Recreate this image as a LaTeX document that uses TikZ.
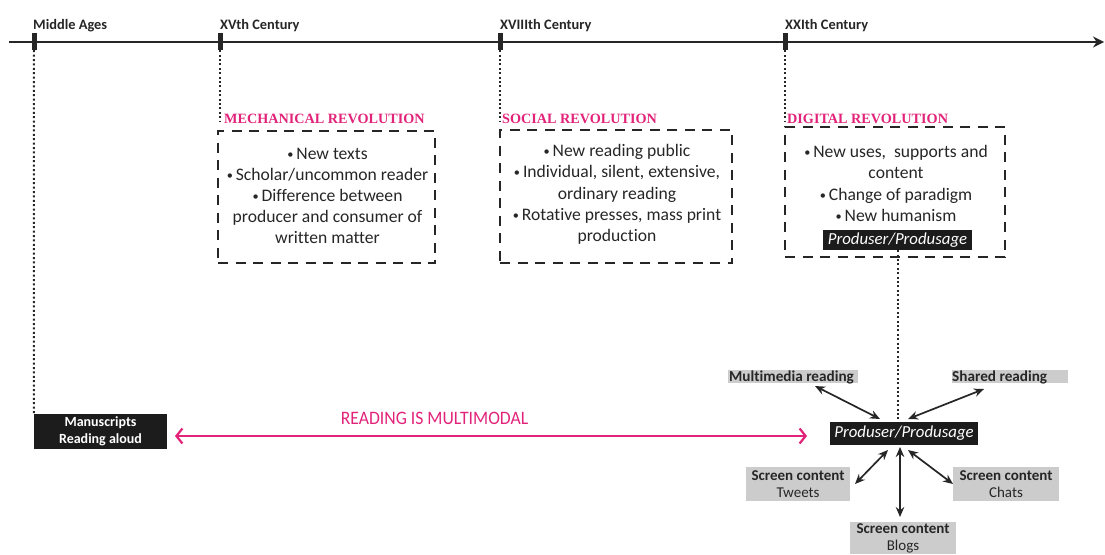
\documentclass[tikz,border=0pt]{standalone}
\usepackage{graphicx}
\usepackage{fontspec}
\setmainfont{Carlito}[Ligatures=NoCommon]
\newfontfamily\headfont{Liberation Serif}
\usetikzlibrary{arrows.meta}
\definecolor{mag}{RGB}{226,35,122}
\definecolor{ink}{RGB}{38,38,38}
\definecolor{greybox}{RGB}{204,204,204}
\definecolor{blackbox}{RGB}{28,28,28}
\newcommand\bul{\raisebox{0.12ex}{\scalebox{0.7}{\textbullet}}\,}
\tikzset{
  tl/.style={font=\fontsize{14.4}{16}\selectfont\bfseries, text=ink, anchor=base west, inner sep=0pt},
  tickmark/.style={fill=ink, minimum width=5pt, minimum height=17pt, inner sep=0pt},
  dots/.style={ink, line width=2pt, dash pattern=on 2pt off 2.4pt},
  revbox/.style={draw=ink, line width=2.4pt, dash pattern=on 10pt off 7.5pt, inner sep=0pt},
  revtitle/.style={font=\headfont\fontsize{14.2}{16}\selectfont\bfseries, text=mag, anchor=base west, inner sep=0pt},
  bodytext/.style={font=\fontsize{17.6}{21.2}\selectfont, text=ink, align=center, inner sep=0pt},
  darkbox/.style={fill=blackbox, text=white, inner sep=0pt},
  greylabel/.style={fill=greybox, text=ink, inner sep=0pt, font=\fontsize{15}{17}\selectfont, align=center},
  greytext/.style={text=ink, inner sep=0pt, font=\fontsize{15.2}{17}\selectfont\bfseries},
  dblarrow/.style={{Stealth[length=10pt,width=8.5pt]}-{Stealth[length=10pt,width=8.5pt]}, line width=1.7pt, ink},
  magarrow/.style={{Straight Barb[length=6pt,width=15pt]}-{Straight Barb[length=6pt,width=15pt]}, line width=2.2pt, mag}
}
\begin{document}
\begin{tikzpicture}[x=1pt,y=-1pt]
\useasboundingbox (0,0) rectangle (1105,554);

% timeline
\coordinate (tstart) at (9,42);
\coordinate (tend) at (1104,42);
\draw[line width=2.4pt, ink, -{Stealth[length=11pt,width=11pt]}] (tstart) -- (tend);
\node[tickmark] (t1) at (34,41.5) {};
\node[tickmark] (t2) at (220,41.5) {};
\node[tickmark] (t3) at (500,41.5) {};
\node[tickmark] (t4) at (785,41.5) {};
\node[tl] (l1) at (33,29) {Middle Ages};
\node[tl] (l2) at (220,29) {XVth Century};
\node[tl] (l3) at (500,29) {XVIIIth Century};
\node[tl] (l4) at (785,29) {XXIth Century};

% revolution boxes
\node[revbox, minimum width=217pt, minimum height=132pt] (mech) at (326.5,197) {};
\node[revbox, minimum width=232pt, minimum height=133pt] (soc) at (616,196.5) {};
\node[revbox, minimum width=220pt, minimum height=130pt] (dig) at (895,192) {};

\node[revtitle] (mecht) at (224,123) {MECHANICAL REVOLUTION};
\node[revtitle] (soct) at (502,123) {SOCIAL REVOLUTION};
\node[revtitle] (digt) at (787,123) {DIGITAL REVOLUTION};

\coordinate (d2) at (220,121);
\coordinate (d3) at (500,121);
\coordinate (d4) at (785,121);
\draw[dots] (t2.south) -- (d2);
\draw[dots] (t3.south) -- (d3);
\draw[dots] (t4.south) -- (d4);

\node[bodytext] (mechtx) at (327.5,196) {\bul New texts\\ \bul Scholar/uncommon reader\\ \bul Difference between\\ producer and consumer of\\ written matter};
\node[bodytext] (soctx) at (617,194.5) {\bul New reading public\\ \bul Individual, silent, extensive,\\ ordinary reading\\ \bul Rotative presses, mass print\\ production};
\node[bodytext] (digtx) at (896,183.5) {\bul New uses,\ \ supports and\\ content\\ \bul Change of paradigm\\ \bul New humanism};
\node[darkbox, minimum width=149pt, minimum height=20pt, font=\fontsize{16.8}{18}\selectfont\itshape] (prodtop) at (897.5,240) {Produser/Produsage};

% lower part
\node[darkbox, minimum width=133pt, minimum height=35pt, align=center, font=\fontsize{14}{16.5}\selectfont\bfseries] (manu) at (100.5,431.5) {Manuscripts\\ Reading aloud};
\draw[dots] (t1.south) -- (manu.north west);

\node[darkbox, minimum width=148pt, minimum height=23pt, font=\fontsize{16.8}{18}\selectfont\itshape] (prod) at (904,433.5) {Produser/Produsage};
\draw[dots] (prodtop.south) -- (prodtop.south |- prod.north);

\coordinate (ma) at (175,436);
\coordinate (mb) at (807,436);
\draw[magarrow] (ma) -- (mb);
\node[text=mag, inner sep=0pt, font=\fontsize{19}{21}\selectfont] (rim) at (434.5,418) {\scalebox{0.93}[1]{READING IS MULTIMODAL}};

\node[greylabel, minimum width=130pt, minimum height=13pt] (mm) at (793,376.5) {};
\node[greytext, anchor=base west] (mmt) at (729,381.5) {Multimedia reading};
\node[greylabel, minimum width=116pt, minimum height=13pt] (sr) at (1010,376.5) {};
\node[greytext, anchor=base west] (srt) at (952,381.5) {Shared reading};
\node[greylabel, minimum width=104pt, minimum height=34pt] (tw) at (798,484) {\textbf{Screen content}\\ Tweets};
\node[greylabel, minimum width=106pt, minimum height=34pt] (ch) at (1006,484) {\textbf{Screen content}\\ Chats};
\node[greylabel, minimum width=106pt, minimum height=32pt] (bl) at (903,538) {\textbf{Screen content}\\ Blogs};

\coordinate (a1) at (815,386);
\coordinate (a2) at (880,419);
\coordinate (b1) at (984,389);
\coordinate (b2) at (908,419);
\coordinate (c1) at (855,484);
\coordinate (c2) at (888,450);
\coordinate (e1) at (900,447);
\coordinate (e2) at (900,517);
\coordinate (f1) at (908,450);
\coordinate (f2) at (953,484);
\draw[dblarrow] (a1) -- (a2);
\draw[dblarrow] (b1) -- (b2);
\draw[dblarrow] (c1) -- (c2);
\draw[dblarrow] (e1) -- (e2);
\draw[dblarrow] (f1) -- (f2);
\end{tikzpicture}
\end{document}
